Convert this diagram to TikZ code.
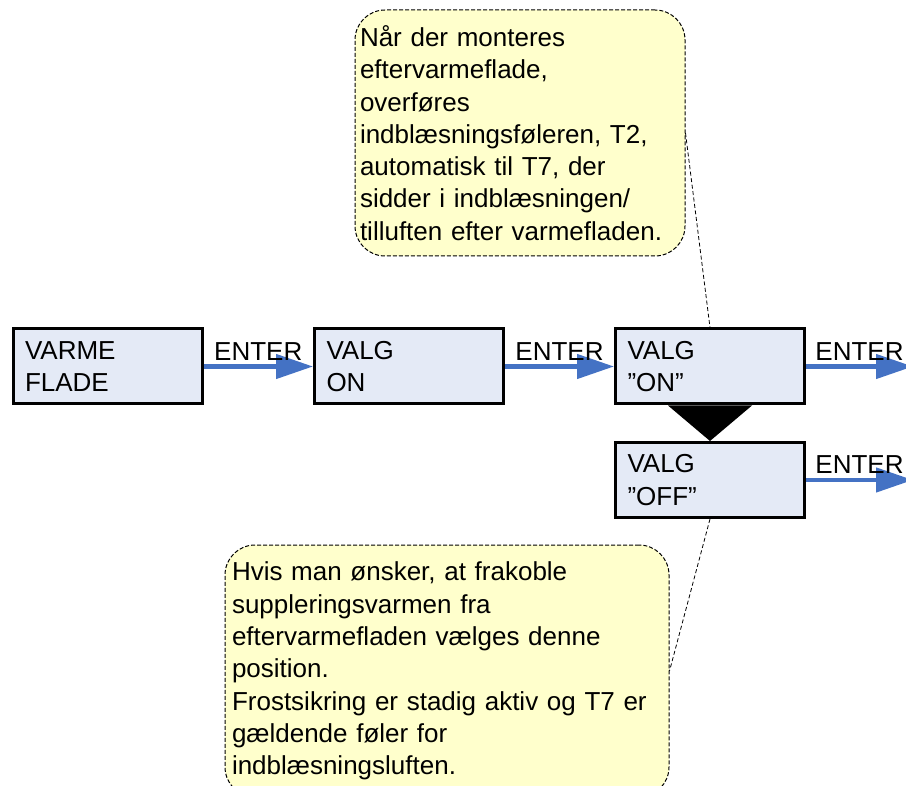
\documentclass[tikz,border=0pt]{standalone}
\usepackage{fontspec}
\setmainfont{Liberation Sans}
\usetikzlibrary{positioning,arrows.meta}
\definecolor{boxblue}{HTML}{E4EAF6}
\definecolor{flowblue}{HTML}{4472C4}
\definecolor{noteyellow}{HTML}{FFFFCC}
\tikzset{
  menubox/.style={draw,line width=3pt,fill=boxblue,minimum height=75pt,
    inner xsep=12pt,text width=165pt,align=left},
  flow/.style={draw=flowblue,line width=4.5pt,
    -{Triangle[length=37pt,width=24pt]}},
  enterlbl/.style={above,inner sep=1pt,yshift=3pt,text=black},
  note/.style={draw=black,fill=noteyellow,dashed,dash pattern=on 4pt off 2pt,
    line width=1pt,rounded corners=30pt,align=left},
  pointer/.style={draw=black,dashed,dash pattern=on 4pt off 2.5pt,line width=0.8pt}
}
\begin{document}
\begin{tikzpicture}[x=1pt,y=-1pt,font=\fontsize{26}{32.3}\selectfont]
  \useasboundingbox (0,0) rectangle (906,786);
  %%%% the menu chain
  \node[menubox] (varme) at (107.5,366.5) {VARME\\FLADE};
  \node[menubox] (valgon) at (409,366.5) {VALG\\ON};
  \node[menubox] (valgquot) at (710,366.5) {VALG\\”ON”};
  \node[menubox] (valgoff) at (710,480) {VALG\\”OFF”};
  %% loose ends on the right
  \coordinate (out1) at (913,366.5);
  \coordinate (out2) at (913,480);
  %%%% arrows
  \draw[flow] (varme.east) -- node[enterlbl] (enter1) {ENTER} (valgon.west);
  \draw[flow] (valgon.east) -- node[enterlbl] (enter2) {ENTER} (valgquot.west);
  \draw[flow] (valgquot.east) -- node[enterlbl] (enter3) {ENTER} (out1);
  \draw[flow] (valgoff.east) -- node[enterlbl] (enter4) {ENTER} (out2);
  %% the black wedge between ON and OFF
  \fill ([xshift=-42pt]valgquot.south) -- ([xshift=42pt]valgquot.south) -- (valgoff.north) -- cycle;
  %%%% notes
  \node[note,inner xsep=5pt,text width=320pt,minimum height=246pt] (note1) at (520,133)
    {Når der monteres\\eftervarmeflade,\\overføres\\indblæsningsføleren, T2,\\automatisk til T7, der\\sidder i indblæsningen/\\tilluften efter varmefladen.};
  \node[note,inner xsep=7pt,text width=430pt,minimum height=252pt] (note2) at (447,671)
    {Hvis man ønsker, at frakoble\\suppleringsvarmen fra\\eftervarmefladen vælges denne\\position.\\Frostsikring er stadig aktiv og T7 er\\gældende føler for\\indblæsningsluften.};
  \draw[pointer] (note1.east) -- (valgquot.north);
  \draw[pointer] (valgoff.south) -- (note2.east);
\end{tikzpicture}
\end{document}
